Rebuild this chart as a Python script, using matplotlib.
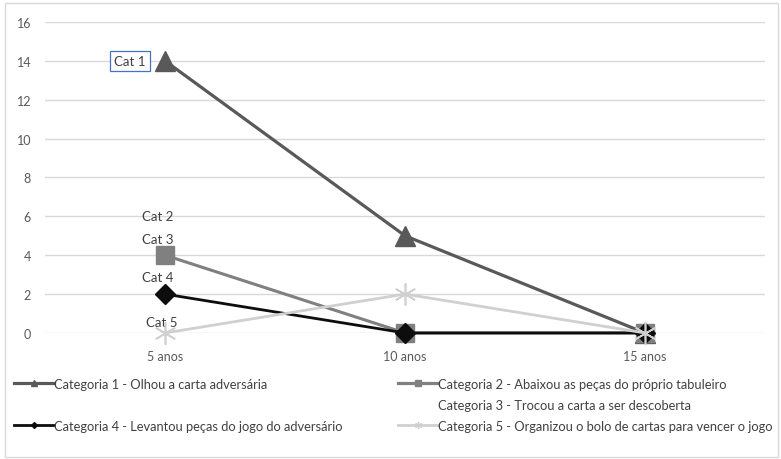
import matplotlib.pyplot as plt
from matplotlib.lines import Line2D
from matplotlib.patches import Rectangle

plt.rcParams['font.family'] = ['Lato', 'DejaVu Sans']

# idades e ocorrencias por categoria
idades = ['5 anos', '10 anos', '15 anos']
cat1 = [14, 5, 0]
cat2 = [4, 0, 0]
cat3 = [4, 0, 0]
cat4 = [2, 0, 0]
cat5 = [0, 2, 0]
rotulos = ['Categoria 1 - Olhou a carta adversária',
           'Categoria 2 - Abaixou as peças do próprio tabuleiro',
           'Categoria 3 - Trocou a carta a ser descoberta',
           'Categoria 4 - Levantou peças do jogo do adversário',
           'Categoria 5 - Organizou o bolo de cartas para vencer o jogo']
yticks = [0, 2, 4, 6, 8, 10, 12, 14, 16]

fig = plt.figure(figsize=(7.81, 4.6), dpi=100)
ax = fig.add_axes([0.0576, 0.274, 0.922, 0.676])
x = range(len(idades))

asterisco = (6, 2, 0)
l1, = ax.plot(x, cat1, color='#595959', lw=2.3, marker='^', ms=15, zorder=3)
l3, = ax.plot(x, cat3, color='#b0b0b0', lw=1.2, zorder=3)
l2, = ax.plot(x, cat2, color='#808080', lw=2.2, marker='s', ms=13, zorder=4)
l4, = ax.plot(x, cat4, color='#0d0d0d', lw=2.0, marker='D', ms=10, zorder=5)
l5, = ax.plot(x, cat5, color='#d0d0d0', lw=2.0, marker=asterisco, ms=16, mew=1.2, zorder=6)

ax.set_xlim(-0.5, 2.5)
ax.set_ylim(0, 16)
ax.set_yticks(yticks)
ax.set_xticks(list(x))
ax.set_xticklabels(idades)
ax.grid(axis='y', color='#d9d9d9', lw=1)
ax.set_axisbelow(True)
for s in ax.spines.values():
    s.set_visible(False)
ax.tick_params(length=0, labelsize=9, colors='#595959', pad=10)
ax.tick_params(axis='x', pad=12)
for l in (l1, l2, l3, l4, l5):
    l.set_clip_on(False)

# rotulos dos pontos
ax.annotate('Cat 1', (0, cat1[0]), xytext=(-14, 0), textcoords='offset points',
            ha='right', va='center', fontsize=9.5, color='#404040',
            bbox=dict(boxstyle='square,pad=0.3', fc='white', ec='#4472c4', lw=0.9))
ax.annotate('Cat 2', (0, cat2[0]), xytext=(-5, 28), textcoords='offset points',
            ha='center', va='center', fontsize=9.5, color='#404040')
ax.annotate('Cat 3', (0, cat3[0]), xytext=(-5, 12), textcoords='offset points',
            ha='center', va='center', fontsize=9.5, color='#404040')
ax.annotate('Cat 4', (0, cat4[0]), xytext=(-5, 12), textcoords='offset points',
            ha='center', va='center', fontsize=9.5, color='#404040')
ax.annotate('Cat 5', (0, cat5[0]), xytext=(-2, 8), textcoords='offset points',
            ha='center', va='center', fontsize=9.5, color='#404040')

# legenda em duas colunas
h1 = Line2D([], [], color='#595959', lw=2.3, marker='^', ms=4)
h2 = Line2D([], [], color='#808080', lw=2.3, marker='s', ms=4)
h3 = Line2D([], [], color='white', lw=0)
h4 = Line2D([], [], color='#0d0d0d', lw=2.0, marker='D', ms=3)
h5 = Line2D([], [], color='#d0d0d0', lw=2.0, marker=asterisco, ms=5)
vazio = Line2D([], [], color='white', lw=0)
fig.legend([h1, vazio, h4, h2, h3, h5],
           [rotulos[0], '', rotulos[3], rotulos[1], rotulos[2], rotulos[4]],
           ncol=2, loc='upper left', bbox_to_anchor=(0.005, 0.199), frameon=False,
           fontsize=9.3, handlelength=3.1, handletextpad=0.0, labelspacing=0.7,
           columnspacing=4.3, labelcolor='#404040', borderpad=0.3)

fig.patches.append(Rectangle((0.006, 0.004), 0.99, 0.988, transform=fig.transFigure,
                             fill=False, ec='#d9d9d9', lw=1))

fig.savefig('out.png', dpi=100)
